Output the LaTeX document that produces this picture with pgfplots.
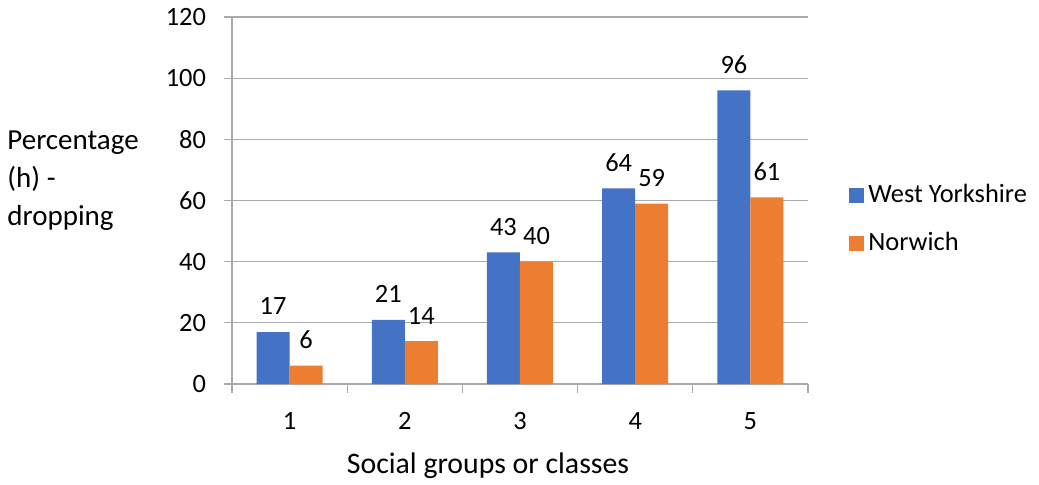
\documentclass[border=0pt]{standalone}
\usepackage{fontspec}
\setmainfont{Carlito}
\usepackage{pgfplots}
\pgfplotsset{compat=1.18}
\definecolor{xblue}{RGB}{68,114,196}
\definecolor{xorange}{RGB}{237,125,49}
\definecolor{xgrid}{RGB}{170,170,170}
\newcommand{\xf}{\fontsize{14.5}{17}\selectfont}
\newcommand{\smf}{\fontsize{13.2}{16}\selectfont}
\begin{document}
\xf
\begin{tikzpicture}
\useasboundingbox (-116pt,-50pt) rectangle (403.5pt,192pt);
\begin{axis}[
  scale only axis,
  width=288pt, height=183.5pt,
  at={(0,0)}, anchor=south west,
  ybar=0pt, bar width=16.5pt,
  xmin=0.5, xmax=5.5, ymin=0, ymax=120,
  xtick={1,2,3,4,5},
  xticklabels={1,2,3,4,5},
  minor xtick={0.5,1.5,2.5,3.5,4.5,5.5},
  ytick={0,20,40,60,80,100,120},
  axis x line*=bottom, axis y line*=left,
  axis line style={draw=xgrid, line width=0.6pt, -},
  ymajorgrids, major grid style={draw=xgrid, line width=0.6pt},
  tick align=outside,
  major tick length=4pt, minor tick length=4.5pt,
  x tick style={draw=none},
  minor x tick style={draw=xgrid, line width=0.6pt},
  y tick style={draw=xgrid, line width=0.6pt},
  xticklabel style={yshift=-5pt},
  yticklabel style={xshift=-4pt},
  /pgf/number format/assume math mode=true,
  ticklabel style={font=\smf},
  nodes near coords,
  every node near coord/.append style={font=\smf, black, yshift=3.5pt},
  legend style={draw=none, at={(1.0712,0.448)}, anchor=west, inner sep=0pt,
    row sep=9pt, font=\smf, legend cell align=left},
  legend image code/.code={\fill[#1,draw=none] (0pt,-3.75pt) rectangle (7.5pt,3.75pt);},
]
\addplot[fill=xblue, draw=none] coordinates {(1,17) (2,21) (3,43) (4,64) (5,96)};
\addplot[fill=xorange, draw=none] coordinates {(1,6) (2,14) (3,40) (4,59) (5,61)};
\legend{West Yorkshire, Norwich}
\end{axis}
\node[anchor=west, align=left, inner sep=0pt, font=\fontsize{14.5}{19}\selectfont] at (-112.5pt,101.5pt) {Percentage\\(h) -\\dropping};
\node[font=\fontsize{14.9}{17}\selectfont] at (128pt,-41pt) {Social groups or classes};
\end{tikzpicture}
\end{document}
